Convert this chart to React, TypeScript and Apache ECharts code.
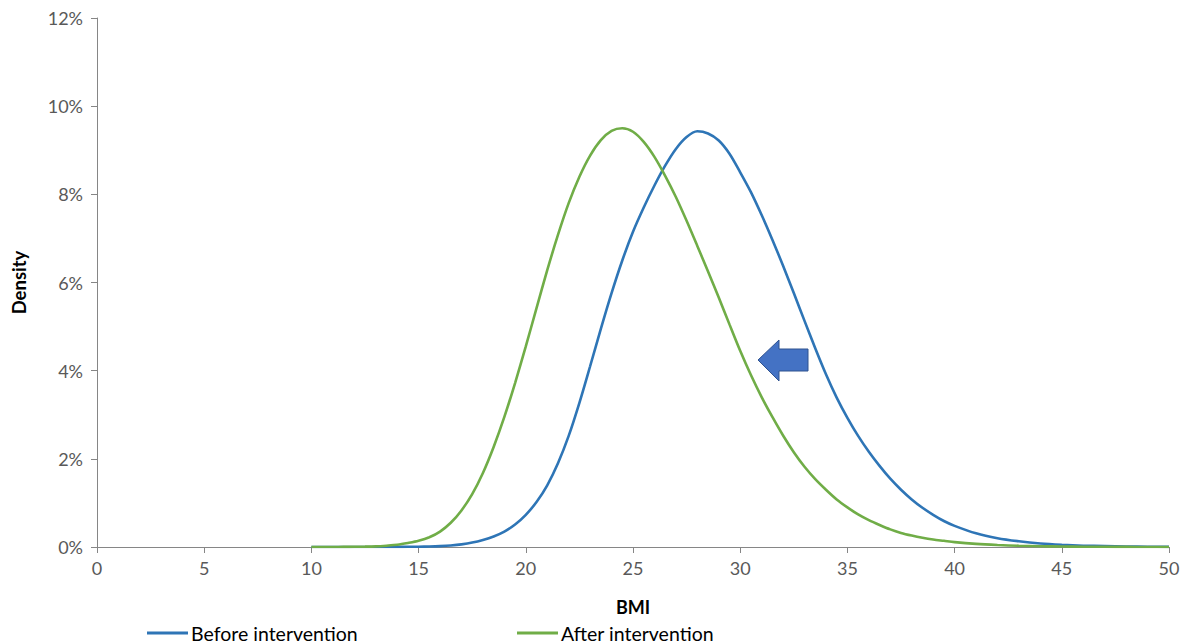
import React, { useEffect, useRef } from "react";
import * as echarts from "echarts";

const bmi = [
  10, 10.5, 11, 11.5, 12, 12.5, 13, 13.5, 14, 14.5, 15, 15.5, 16, 16.5, 17, 17.5, 18, 18.5, 19, 19.5,
  20, 20.5, 21, 21.5, 22, 22.5, 23, 23.5, 24, 24.5, 25, 25.5, 26, 26.5, 27, 27.5, 28, 28.5, 29, 29.5,
  30, 30.5, 31, 31.5, 32, 32.5, 33, 33.5, 34, 34.5, 35, 35.5, 36, 36.5, 37, 37.5, 38, 38.5, 39, 39.5,
  40, 41, 42, 43, 44, 45, 46, 47, 48, 49, 50,
];

const beforeIntervention = [
  0, 0, 0, 0, 0, 0.001, 0.001, 0.002, 0.003, 0.004, 0.006, 0.011, 0.02, 0.035, 0.06, 0.1, 0.16, 0.24, 0.35, 0.51,
  0.73, 1.02, 1.4, 1.9, 2.52, 3.27, 4.1, 4.95, 5.76, 6.5, 7.15, 7.7, 8.2, 8.65, 9.03, 9.3, 9.43, 9.38, 9.22, 8.92,
  8.5, 8.05, 7.53, 6.97, 6.38, 5.76, 5.13, 4.51, 3.92, 3.39, 2.93, 2.52, 2.16, 1.84, 1.55, 1.3, 1.08, 0.89, 0.73, 0.59,
  0.48, 0.31, 0.2, 0.13, 0.08, 0.05, 0.03, 0.02, 0.01, 0.006, 0.003,
];

const afterIntervention = [
  0, 0, 0.001, 0.002, 0.004, 0.008, 0.015, 0.03, 0.05, 0.09, 0.14, 0.22, 0.35, 0.55, 0.83, 1.2, 1.68, 2.27, 2.95, 3.72,
  4.55, 5.42, 6.28, 7.08, 7.8, 8.4, 8.88, 9.23, 9.44, 9.5, 9.42, 9.19, 8.85, 8.42, 7.94, 7.4, 6.83, 6.25, 5.66, 5.05,
  4.45, 3.9, 3.4, 2.95, 2.53, 2.15, 1.82, 1.54, 1.3, 1.08, 0.9, 0.74, 0.61, 0.5, 0.4, 0.32, 0.26, 0.21, 0.17, 0.14,
  0.11, 0.07, 0.045, 0.028, 0.018, 0.011, 0.007, 0.004, 0.002, 0.001, 0.001,
];

const xTicks = { min: 0, max: 50, interval: 5 };
const yTicks = { min: 0, max: 12, interval: 2 };

export default function App() {
  const ref = useRef<HTMLDivElement>(null);
  useEffect(() => {
    if (!ref.current) return;
    const chart = echarts.init(ref.current, null, { renderer: "svg" });
    const font = "Lato, 'Open Sans', sans-serif";
    const axisColor = "#868686";
    const labelColor = "#595959";
    const legendCommon = {
      top: 623,
      icon: "rect",
      itemWidth: 41,
      itemHeight: 3,
      itemGap: 4,
      padding: 0,
      textStyle: { fontFamily: font, fontSize: 19.5, color: "#000", padding: [0, 0, 0, -2] },
    };
    chart.setOption({
      animation: false,
      backgroundColor: "#ffffff",
      grid: { left: 97, right: 25, top: 18, bottom: 97, containLabel: false },
      xAxis: {
        type: "value",
        min: xTicks.min,
        max: xTicks.max,
        interval: xTicks.interval,
        name: "BMI",
        nameLocation: "middle",
        nameGap: 51,
        nameTextStyle: { fontFamily: font, fontSize: 18, fontWeight: "bold", color: "#000" },
        axisLine: { show: true, lineStyle: { color: axisColor, width: 1 } },
        axisTick: { show: true, length: 6, lineStyle: { color: axisColor } },
        axisLabel: { fontFamily: font, fontSize: 18, color: labelColor, margin: 12 },
        splitLine: { show: false },
      },
      yAxis: {
        type: "value",
        min: yTicks.min,
        max: yTicks.max,
        interval: yTicks.interval,
        name: "Density",
        nameLocation: "middle",
        nameGap: 69,
        nameRotate: 90,
        nameTextStyle: { fontFamily: font, fontSize: 18.5, fontWeight: "bold", color: "#000" },
        axisLine: { show: true, lineStyle: { color: axisColor, width: 1 } },
        axisTick: { show: true, length: 6, lineStyle: { color: axisColor } },
        axisLabel: { fontFamily: font, fontSize: 18, color: labelColor, margin: 14, formatter: "{value}%" },
        splitLine: { show: false },
      },
      legend: [
        { ...legendCommon, data: ["Before intervention"], left: 147 },
        { ...legendCommon, data: ["After intervention"], left: 517 },
      ],
      series: [
        {
          name: "Before intervention",
          type: "line",
          data: bmi.map((x, i) => [x, beforeIntervention[i]]),
          smooth: 0.3,
          showSymbol: false,
          symbol: "none",
          color: "#2E75B6",
          lineStyle: { color: "#2E75B6", width: 2.6 },
        },
        {
          name: "After intervention",
          type: "line",
          data: bmi.map((x, i) => [x, afterIntervention[i]]),
          smooth: 0.3,
          showSymbol: false,
          symbol: "none",
          color: "#70AD47",
          lineStyle: { color: "#70AD47", width: 2.6 },
        },
      ],
      graphic: [
        {
          type: "polygon",
          z: 100,
          shape: {
            points: [
              [758, 360],
              [779, 340],
              [779, 349],
              [808, 349],
              [808, 371],
              [779, 371],
              [779, 381],
            ],
          },
          style: { fill: "#4472C4", stroke: "#2F528F", lineWidth: 1 },
        },
      ],
    });
    return () => chart.dispose();
  }, []);
  return (
    <div
      ref={ref}
      style={{ position: "fixed", left: 0, top: 0, width: 1194, height: 644, background: "#fff" }}
    />
  );
}
